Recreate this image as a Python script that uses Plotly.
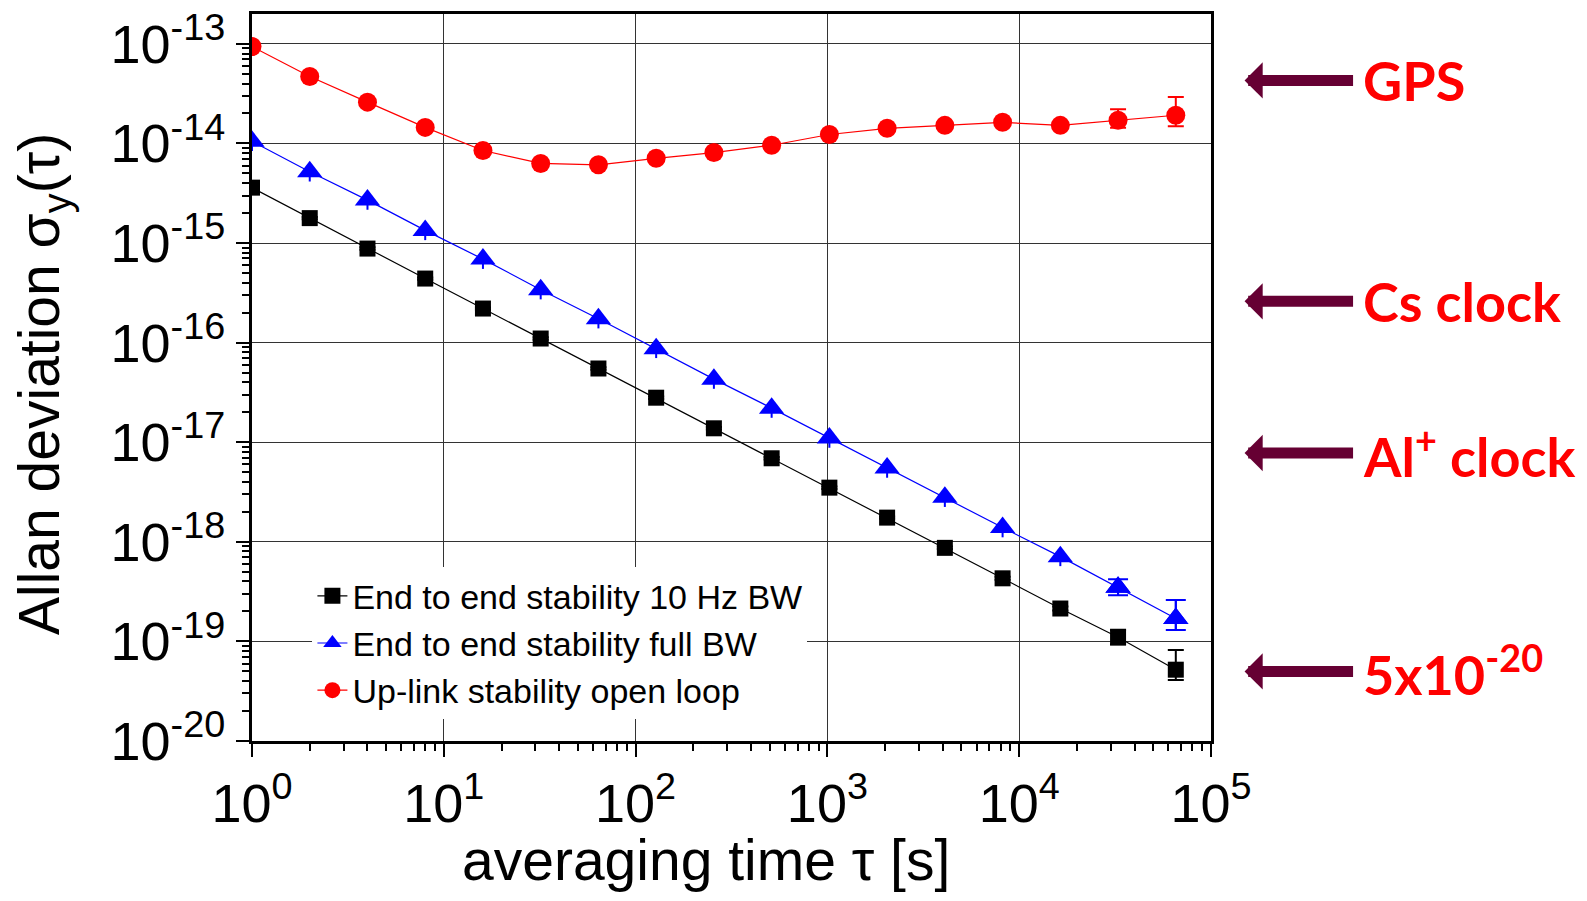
import math
import plotly.graph_objects as go

# averaging times (s)
tau = [1, 2, 4, 8, 16, 32, 64, 128, 256, 512, 1024, 2048, 4096, 8192, 16384, 32768, 65536]

# End to end stability, 10 Hz BW
adev_10hz = [3.6e-15, 1.78e-15, 8.8e-16, 4.4e-16, 2.2e-16, 1.1e-16, 5.5e-17, 2.8e-17, 1.38e-17,
             6.9e-18, 3.5e-18, 1.75e-18, 8.7e-19, 4.3e-19, 2.14e-19, 1.1e-19, 5.2e-20]
err_10hz_plus = [1e-16, 5e-17, 2.5e-17, 1.2e-17, 6e-18, 3e-18, 1.5e-18, 8e-19, 4e-19,
                 2e-19, 1e-19, 5e-20, 2.5e-20, 1.5e-20, 1e-20, 2.1e-20, 3.0e-20]
err_10hz_minus = [1e-16, 5e-17, 2.5e-17, 1.2e-17, 6e-18, 3e-18, 1.5e-18, 8e-19, 4e-19,
                  2e-19, 1e-19, 5e-20, 2.5e-20, 1.5e-20, 1e-20, 1.7e-20, 1.1e-20]

# End to end stability, full BW
adev_full = [1.05e-14, 5.2e-15, 2.7e-15, 1.34e-15, 6.9e-16, 3.4e-16, 1.74e-16, 8.7e-17, 4.3e-17,
             2.2e-17, 1.1e-17, 5.5e-18, 2.8e-18, 1.39e-18, 7.1e-19, 3.5e-19, 1.7e-19]
err_full_plus = [5e-16, 2.6e-16, 1.3e-16, 7e-17, 3.4e-17, 1.7e-17, 9e-18, 4.3e-18, 2.2e-18,
                 1.1e-18, 5.5e-19, 2.8e-19, 1.4e-19, 7e-20, 3.5e-20, 0.7e-19, 0.9e-19]
err_full_minus = [2.1e-15, 1.05e-15, 5.4e-16, 2.7e-16, 1.4e-16, 6.8e-17, 3.5e-17, 1.7e-17, 8.6e-18,
                  4.4e-18, 2.2e-18, 1.1e-18, 5.6e-19, 2.8e-19, 1.4e-19, 0.6e-19, 0.4e-19]

# Up-link stability, open loop
adev_uplink = [9.4e-14, 4.7e-14, 2.6e-14, 1.45e-14, 8.5e-15, 6.3e-15, 6.1e-15, 7.1e-15, 8.1e-15,
               9.6e-15, 1.23e-14, 1.42e-14, 1.52e-14, 1.63e-14, 1.52e-14, 1.71e-14, 1.92e-14]
err_uplink_plus = [0] * 15 + [0.49e-14, 1.0e-14]
err_uplink_minus = [0] * 15 + [0.27e-14, 0.43e-14]

x_tickvals = [1, 10, 100, 1000, 10000, 100000]
x_ticktext = ['10<sup>0</sup>', '10<sup>1</sup>', '10<sup>2</sup>', '10<sup>3</sup>', '10<sup>4</sup>', '10<sup>5</sup>']
y_tickvals = [1e-20, 1e-19, 1e-18, 1e-17, 1e-16, 1e-15, 1e-14, 1e-13]
y_ticktext = ['10<sup>-20</sup>', '10<sup>-19</sup>', '10<sup>-18</sup>', '10<sup>-17</sup>',
              '10<sup>-16</sup>', '10<sup>-15</sup>', '10<sup>-14</sup>', '10<sup>-13</sup>']

# reference levels marked on the right
ref_labels = ['GPS', 'Cs clock', 'Al<sup>+</sup> clock', '5x10<sup>-20</sup>']
ref_levels = [4.3e-14, 2.6e-16, 7.8e-18, 5e-20]

FONT = 'Liberation Sans, Arial, sans-serif'

fig = go.Figure()

series = [
    ('End to end stability 10 Hz BW', adev_10hz, err_10hz_plus, err_10hz_minus, 'black', 'square', 16, 8),
    ('End to end stability full BW', adev_full, err_full_plus, err_full_minus, 'blue', 'triangle-up', 22, 0),
    ('Up-link stability open loop', adev_uplink, err_uplink_plus, err_uplink_minus, 'red', 'circle', 19, 8),
]
for name, y, ep, em, color, symbol, size, capw in series:
    fig.add_trace(go.Scatter(
        x=tau, y=y, name=name, mode='lines+markers',
        line=dict(color=color, width=1.2),
        marker=dict(color=color, symbol=symbol, size=size),
        error_y=dict(type='data', array=ep, arrayminus=em, color=color, thickness=2, width=capw),
    ))

# capped error bars on the last two full-BW points
fig.add_trace(go.Scatter(
    x=tau[-2:], y=adev_full[-2:], mode='markers', showlegend=False, hoverinfo='skip',
    marker=dict(color='blue', symbol='triangle-up', size=22),
    error_y=dict(type='data', array=err_full_plus[-2:], arrayminus=err_full_minus[-2:],
                 color='blue', thickness=2, width=10),
))

# arrows and labels on the right
for label, level in zip(ref_labels, ref_levels):
    fig.add_annotation(x=1.035, y=math.log10(level), xref='paper', yref='y', text='',
                       showarrow=True, ax=110, ay=0, arrowhead=1, arrowsize=0.55,
                       arrowwidth=11, arrowcolor='#660033')
    fig.add_annotation(x=1.035, y=math.log10(level), xref='paper', yref='y', text=label,
                       showarrow=False, xanchor='left', yanchor='middle', xshift=116,
                       font=dict(family='Lato, sans-serif', size=54, color='red', weight='bold'))

# axis titles
fig.add_annotation(x=-0.218, y=0.491, xref='paper', yref='paper', textangle=-90,
                   xanchor='center', yanchor='middle',
                   text='Allan deviation \u03c3<sub>y</sub>(\u03c4)', showarrow=False,
                   font=dict(family=FONT, size=57, color='black'))
fig.add_annotation(x=0.473, y=-0.163, xref='paper', yref='paper',
                   xanchor='center', yanchor='middle',
                   text='averaging time \u03c4 [s]', showarrow=False,
                   font=dict(family=FONT, size=57, color='black'))

axis_common = dict(
    type='log', showline=True, linecolor='black', linewidth=3, mirror=True,
    showgrid=True, gridcolor='#333333', gridwidth=1.2,
    ticks='outside', ticklen=13, tickwidth=2, tickcolor='black',
    tickmode='array', zeroline=False, automargin=False, ticklabeloverflow='allow',
)

fig.update_xaxes(
    **axis_common, range=[0, 5], tickvals=x_tickvals, ticktext=x_ticktext,
    tickfont=dict(family=FONT, size=54, color='black'),
    minor=dict(ticks='outside', ticklen=7, tickwidth=2, tickcolor='black', showgrid=False,
               tickvals=[m * 10 ** k for k in range(5) for m in range(2, 10)]),
)
fig.update_yaxes(
    **axis_common, range=[-20, -12.7], tickvals=y_tickvals, ticktext=y_ticktext,
    tickfont=dict(family=FONT, size=54, color='black'),
    minor=dict(ticks='outside', ticklen=7, tickwidth=2, tickcolor='black', showgrid=False,
               tickvals=[m * 10.0 ** k for k in range(-20, -13) for m in range(2, 10)]),
)

# the page body adds an 8 px margin, so the figure is 16 px smaller than the window
fig.update_layout(
    width=1571, height=885,
    margin=dict(l=244, r=368, t=6, b=152, autoexpand=False),
    plot_bgcolor='white', paper_bgcolor='white',
    font=dict(family=FONT, color='black'),
    showlegend=True,
    legend=dict(x=0.063, y=0.03, xanchor='left', yanchor='bottom',
                bgcolor='white', borderwidth=0,
                font=dict(family=FONT, size=34, color='black'),
                tracegroupgap=0, itemsizing='trace'),
)

fig.write_html("out.html")
